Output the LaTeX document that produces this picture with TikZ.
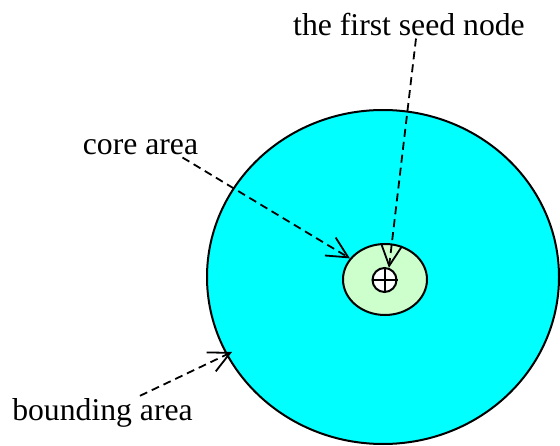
\documentclass[tikz,border=0pt]{standalone}
\usepackage{fontspec}
\setmainfont{Liberation Serif}
\usepackage{tikz}
\usetikzlibrary{calc,positioning,arrows.meta,shapes.geometric}
\definecolor{boundfill}{RGB}{0,255,255}
\definecolor{corefill}{RGB}{204,255,204}

\begin{document}
\begin{tikzpicture}[x=1pt,y=1pt,>={Straight Barb[length=21pt,width=21pt,line width=1.8pt]},
  area/.style={draw,ellipse,line width=2pt,inner sep=0pt},
  label/.style={font=\fontsize{31.7}{38}\selectfont,inner sep=2pt},
  pointer/.style={->,line width=1.8pt,dash pattern=on 8pt off 5pt}]
  \useasboundingbox (0,0) rectangle (560,445);
  % areas
  \node[area,fill=boundfill,minimum width=352,minimum height=334] (bound) at (383,168) {};
  \node[area,fill=corefill,minimum width=84,minimum height=71] (core) at (385,165.5) {};
  \node[draw,circle,fill=white,line width=2pt,minimum size=24,inner sep=0pt] (seed) at (384.5,165) {};
  \draw[line width=2pt] (seed.north) -- (seed.south) (seed.west) -- (seed.east);
  % labels
  \node[label,anchor=base] (seedlabel) at (409,409) {the first seed node};
  \node[label,anchor=base] (corelabel) at (140.5,290) {core area};
  \node[label,anchor=base] (boundlabel) at (102.5,25) {bounding area};
  \coordinate (boundtip) at (232,93);
  % pointers
  \draw[pointer] ([xshift=7pt]seedlabel.south) -- (seed.70);
  \draw[pointer] ([xshift=42pt]corelabel.south) -- (core);
  \draw[pointer] ([xshift=37.5pt]boundlabel.north) -- (boundtip);
\end{tikzpicture}
\end{document}
